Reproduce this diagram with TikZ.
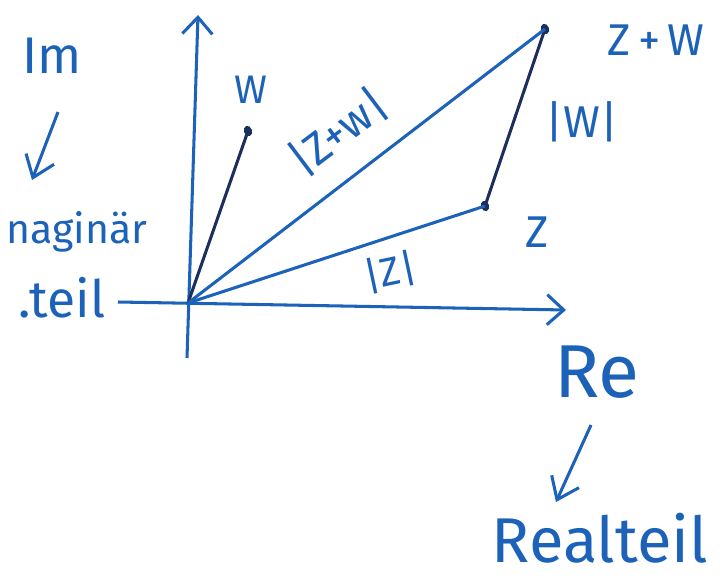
\documentclass[tikz,border=0pt]{standalone}
\usepackage{fontspec}
\setmainfont{Fira Sans}
\usetikzlibrary{arrows.meta,positioning,calc,shapes.geometric}
\definecolor{ink}{HTML}{1C62B8}
\definecolor{inkdark}{HTML}{1B2E5E}
\tikzset{
  axis/.style={draw=ink,line width=2.6pt,-{Straight Barb[length=5mm,width=9mm,line width=2.6pt]}},
  vec/.style={draw=ink,line width=2.6pt},
  vecd/.style={draw=inkdark,line width=2.6pt},
  pt/.style={ellipse,fill=inkdark,inner sep=0pt,minimum width=2.4mm,minimum height=3.2mm},
  lab/.style={text=ink,inner sep=1pt,font=\fontsize{#1}{#1}\selectfont},
  lab/.default=34,
  hint/.style={draw=ink,line width=2.6pt,-{Straight Barb[length=6mm,width=9mm,line width=2.6pt]}},
}
\begin{document}
\begin{tikzpicture}[x=0.03cm,y=-0.03cm]
  \useasboundingbox (0,0) rectangle (720,581);
  % axes
  \coordinate (O) at (188,303);
  \coordinate (xl) at (118,302);
  \coordinate (xr) at (566,310);
  \coordinate (yb) at (187,358);
  \coordinate (yt) at (198,15);
  \draw[axis] (xl)--(xr);
  \draw[axis] (yb)--(yt);
  % the three points
  \node[pt,rotate=20](w) at (248,131){};
  \node[pt,rotate=20](z) at (485,206){};
  \node[pt,rotate=20](zw) at (545,29){};
  \draw[vecd] (O)--(w.center);
  \draw[vecd] (z.center)--(zw.center);
  \foreach \p in {z,zw} \draw[vec] (O)--(\p.center);
  % labels
  \node[lab=34](lw) at (251,90){W};
  \node[lab=38](lzw) at (656,40){Z\,+\,W};
  \node[lab=38](lwabs) at (582,122){|W|};
  \node[lab=38](lz) at (537,232){Z};
  \node[lab=34,rotate=12](lzabs) at (390,272){|Z|};
  \node[lab=38,rotate=37](lzwabs) at (338,132){|Z+w|};
  % imaginary axis name
  \node[lab=44](im) at (52,56){Im};
  \node[lab=35](imag) at (77,232){naginär};
  \node[lab=44](teil) at (62,298){.teil};
  \coordinate (ia) at (58,112);
  \coordinate (ib) at (32,180);
  \draw[hint] (ia)--(ib);
  % real axis name
  \node[lab=64](re) at (597,372){Re};
  \node[lab=54](real) at (600,538){Realteil};
  \coordinate (ra) at (591,425);
  \coordinate (rb) at (556,502);
  \draw[hint] (ra)--(rb);
\end{tikzpicture}
\end{document}
